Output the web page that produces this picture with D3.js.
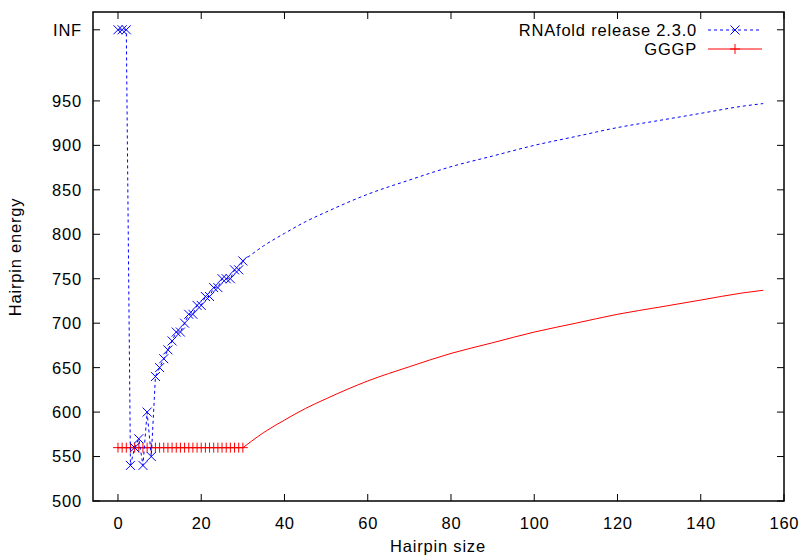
<!DOCTYPE html>
<html>
<head>
<meta charset="utf-8">
<script src="https://cdn.jsdelivr.net/npm/d3@7"></script>
<style>
  body { margin: 0; background: #fff; }
  text { font-family: "Liberation Sans", Arial, sans-serif; font-size: 16.5px; letter-spacing: 0.8px; fill: #000; }
</style>
</head>
<body>
<script>
// values; "INF" is plotted at 1030
const INF = 1030;
const sizes = d3.range(0, 31);
const rnaEnergy = [INF, INF, INF, 540, 560, 570, 540, 600, 550, 640,
  650, 660, 670, 680, 690, 690, 700, 710, 710, 720,
  720, 730, 730, 740, 740, 750, 750, 750, 760, 760, 770];
const gggpEnergy = sizes.map(() => 560);
// long tail, no markers
const tailSizes = [30, 32, 35, 40, 45, 50, 60, 70, 80, 90, 100, 110, 120, 130, 140, 150, 155];
const rnaTail = [770, 777, 787, 801, 814, 825, 845, 861, 876, 888, 900, 910, 920, 928, 936, 944, 947];
const gggpTail = [560, 567, 577, 591, 604, 615, 635, 651, 666, 678, 690, 700, 710, 718, 726, 734, 737];
const xTicks = [0, 20, 40, 60, 80, 100, 120, 140, 160];
const yTicks = [500, 550, 600, 650, 700, 750, 800, 850, 900, 950];

const W = 803, H = 556;
const m = {left: 93, top: 12, right: 784, bottom: 501};

const svg = d3.select('body').append('svg').attr('width', W).attr('height', H);

const x = d3.scaleLinear().domain([-6, 160]).range([m.left, m.right]);
const y = d3.scaleLinear().domain([500, 1050]).range([m.bottom, m.top]);

const tickLen = 7;
let g = svg.append('g');

// ticks (mirrored, inward)
xTicks.forEach((t) => {
  g.append('line').attr('x1', x(t)).attr('x2', x(t)).attr('y1', m.bottom).attr('y2', m.bottom - tickLen).attr('stroke', '#000');
  g.append('line').attr('x1', x(t)).attr('x2', x(t)).attr('y1', m.top).attr('y2', m.top + tickLen).attr('stroke', '#000');
  g.append('text').attr('x', x(t) + 0.4).attr('y', m.bottom + 28).attr('text-anchor', 'middle').text(t);
});
yTicks.concat([INF]).forEach((t) => {
  g.append('line').attr('x1', m.left).attr('x2', m.left + tickLen).attr('y1', y(t)).attr('y2', y(t)).attr('stroke', '#000');
  g.append('line').attr('x1', m.right).attr('x2', m.right - tickLen).attr('y1', y(t)).attr('y2', y(t)).attr('stroke', '#000');
  g.append('text').attr('x', 82).attr('y', y(t)).attr('dy', '0.36em').attr('text-anchor', 'end')
    .text(t === INF ? 'INF' : t);
});

g.append('rect').attr('x', m.left).attr('y', m.top)
  .attr('width', m.right - m.left).attr('height', m.bottom - m.top)
  .attr('fill', 'none').attr('stroke', '#000').attr('stroke-width', 1.5);

g.append('text').attr('x', 438).attr('y', 552).attr('text-anchor', 'middle').text('Hairpin size');
g.append('text').attr('transform', 'translate(21,257) rotate(-90)').attr('text-anchor', 'middle').text('Hairpin energy');

const line = d3.line().x((d) => x(d[0])).y((d) => y(d[1]));
const curve = d3.line().x((d) => x(d[0])).y((d) => y(d[1])).curve(d3.curveMonotoneX);

function crossMark(sel, cx, cy, col) {
  const s = 4.5;
  sel.append('path').attr('d', `M${cx - s},${cy - s}L${cx + s},${cy + s}M${cx - s},${cy + s}L${cx + s},${cy - s}`)
    .attr('stroke', col).attr('stroke-width', 1).attr('fill', 'none');
}
function plusMark(sel, cx, cy, col) {
  const s = 5;
  sel.append('path').attr('d', `M${cx - s},${cy}L${cx + s},${cy}M${cx},${cy - s}L${cx},${cy + s}`)
    .attr('stroke', col).attr('stroke-width', 1).attr('fill', 'none');
}

// GGGP (red)
let red = svg.append('g');
red.append('path').attr('d', line(sizes.map((s, i) => [s, gggpEnergy[i]])))
  .attr('stroke', '#ff0000').attr('fill', 'none');
red.append('path').attr('d', curve(tailSizes.map((s, i) => [s, gggpTail[i]])))
  .attr('stroke', '#ff0000').attr('fill', 'none');
sizes.forEach((s, i) => plusMark(red, x(s), y(gggpEnergy[i]), '#ff0000'));

// RNAfold (blue dotted)
let blue = svg.append('g');
blue.append('path').attr('d', line(sizes.map((s, i) => [s, rnaEnergy[i]])))
  .attr('stroke', '#0000ff').attr('stroke-dasharray', '3,3').attr('fill', 'none');
blue.append('path').attr('d', curve(tailSizes.map((s, i) => [s, rnaTail[i]])))
  .attr('stroke', '#0000ff').attr('stroke-dasharray', '3,3').attr('fill', 'none');
sizes.forEach((s, i) => crossMark(blue, x(s), y(rnaEnergy[i]), '#0000ff'));

// legend
const leg = svg.append('g');
leg.append('text').attr('x', 697).attr('y', 30).attr('dy', '0.36em').attr('text-anchor', 'end').text('RNAfold release 2.3.0');
leg.append('line').attr('x1', 708).attr('x2', 762).attr('y1', 30).attr('y2', 30)
  .attr('stroke', '#0000ff').attr('stroke-dasharray', '3,3');
crossMark(leg, 735, 30, '#0000ff');
leg.append('text').attr('x', 697).attr('y', 49).attr('dy', '0.36em').attr('text-anchor', 'end').text('GGGP');
leg.append('line').attr('x1', 708).attr('x2', 762).attr('y1', 49).attr('y2', 49).attr('stroke', '#ff0000');
plusMark(leg, 735, 49, '#ff0000');
</script>
</body>
</html>
